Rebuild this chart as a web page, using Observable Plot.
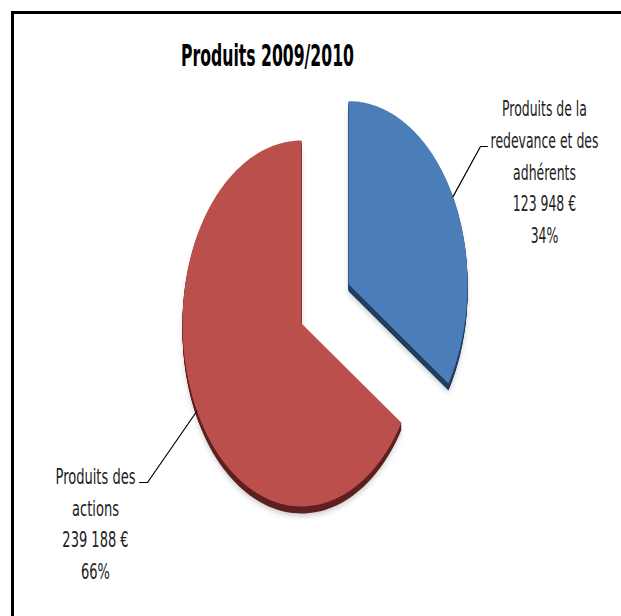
<!DOCTYPE html>
<html>
<head>
<meta charset="utf-8">
<script src="https://cdn.jsdelivr.net/npm/d3@7"></script>
<script src="https://cdn.jsdelivr.net/npm/@observablehq/plot@0.6"></script>
<style>
  html, body { margin: 0; padding: 0; background: #fff; overflow: hidden; }
  #wrap { position: relative; width: 621px; height: 616px; overflow: hidden; }
  #wrap svg { position: absolute; left: 0; top: 0; }
  #border { position: absolute; left: 11px; top: 11px; width: 800px; height: 800px;
            border-left: 3px solid #000; border-top: 3px solid #000; box-sizing: border-box; }
</style>
</head>
<body>
<div id="wrap"><div id="border"></div></div>
<script>
// ---- data ----
const title = "Produits 2009/2010";
const categories = ["Produits de la\nredevance et des\nadhérents", "Produits des\nactions"];
const values = [123948, 239188];
const valueLabels = ["123 948 €", "239 188 €"];
const percentLabels = ["34%", "66%"];
const exploded = [true, false];
const topColors = ["#4B7DB8", "#BB4F4B"];
const sideColors = ["#213C60", "#5E2120"];

// ---- layout ----
const W = 621, H = 616;
const pie = {cx: 301, cy: 323, rx: 119, ry: 183, depth: 7, explode: 0.45};
const labelAnchors = [[544, 169], [95, 521]];
const labelWidths = [108, 80];     // widest line of each label block, px
const titleWidth = 173;
const leaderElbows = [[[480, 146], [487, 146]], [[147, 482], [139, 482]]];
const font = "'DejaVu Sans', sans-serif";

const arcs = d3.pie().sort(null).startAngle(0).endAngle(2 * Math.PI)(values);

function offsetOf(i) {
  const a = arcs[i], mid = (a.startAngle + a.endAngle) / 2;
  if (!exploded[i]) return [0, 0];
  return [pie.explode * pie.rx * Math.sin(mid), -pie.explode * pie.ry * Math.cos(mid)];
}
function slicePts(i, dx, dy, key) {
  const a = arcs[i], [ox, oy] = offsetOf(i);
  const cx = pie.cx + ox + dx, cy = pie.cy + oy + dy;
  const pts = [{x: cx, y: cy, key, i}];
  const n = 120;
  for (let k = 0; k <= n; k++) {
    const t = a.startAngle + (a.endAngle - a.startAngle) * k / n;
    pts.push({x: cx + pie.rx * Math.sin(t), y: cy - pie.ry * Math.cos(t), key, i});
  }
  pts.push({x: cx, y: cy, key, i});
  return pts;
}

const shadowPts = [], sidePts = [], topPts = [];
values.forEach((v, i) => {
  shadowPts.push(...slicePts(i, 0, pie.depth + 3, "s" + i));
  for (let k = pie.depth; k >= 1; k--) sidePts.push(...slicePts(i, 0, k, `d${i}-${k}`));
  topPts.push(...slicePts(i, 0, 0, "t" + i));
});

const leaderPts = [];
values.forEach((v, i) => {
  const a = arcs[i], mid = (a.startAngle + a.endAngle) / 2, [ox, oy] = offsetOf(i);
  leaderPts.push({x: pie.cx + ox + pie.rx * Math.sin(mid), y: pie.cy + oy - pie.ry * Math.cos(mid), i});
  leaderElbows[i].forEach(([x, y]) => leaderPts.push({x, y, i}));
});

const labels = values.map((v, i) => ({
  x: labelAnchors[i][0], y: labelAnchors[i][1], i,
  text: categories[i] + "\n" + valueLabels[i] + "\n" + percentLabels[i]
}));

const chart = Plot.plot({
  width: W, height: H, margin: 0,
  x: {domain: [0, W], axis: null},
  y: {domain: [H, 0], axis: null},
  color: {type: "identity"},
  style: {background: "transparent"},
  marks: [
    Plot.line(shadowPts, {x: "x", y: "y", z: "key", fill: "#777", fillOpacity: 0.35, stroke: "none", ariaDescription: "shadow"}),
    Plot.line(sidePts, {x: "x", y: "y", z: "key", fill: d => sideColors[d.i], stroke: "none"}),
    Plot.line(topPts, {x: "x", y: "y", z: "key", fill: d => topColors[d.i], stroke: "none"}),
    Plot.line(leaderPts, {x: "x", y: "y", z: "i", stroke: "#000", strokeWidth: 1.2}),
    Plot.text(labels, {x: "x", y: "y", text: "text", lineAnchor: "middle", lineHeight: 1.47,
      fontSize: 21.5, fontFamily: font, fill: "#222", ariaDescription: "label"}),
    Plot.text([title], {x: () => 267, y: () => 56, text: d => d, fontSize: 30, fontWeight: "bold",
      fontFamily: font, fill: "#000", ariaDescription: "title"})
  ]
});

// soft blur on the shadow
const ns = "http://www.w3.org/2000/svg";
const defs = document.createElementNS(ns, "defs");
defs.innerHTML = '<filter id="blur" x="-20%" y="-20%" width="140%" height="140%"><feGaussianBlur stdDeviation="2.5"/></filter>';
chart.insertBefore(defs, chart.firstChild);
chart.querySelectorAll('[aria-description="shadow"]').forEach(g => g.setAttribute("filter", "url(#blur)"));

document.getElementById("wrap").appendChild(chart);

// narrow the text horizontally (the reference is horizontally compressed), keeping each anchor fixed
function fitWidth(textEl, target) {
  const w = textEl.getBBox().width;
  if (!w) return;
  const k = target / w;
  const tr = textEl.getAttribute("transform") || "";
  textEl.setAttribute("transform", tr + ` scale(${k},1)`);
}
chart.querySelectorAll('[aria-description="label"] text').forEach((t, j) => fitWidth(t, labelWidths[j]));
chart.querySelectorAll('[aria-description="title"] text').forEach(t => fitWidth(t, titleWidth));
</script>
</body>
</html>
